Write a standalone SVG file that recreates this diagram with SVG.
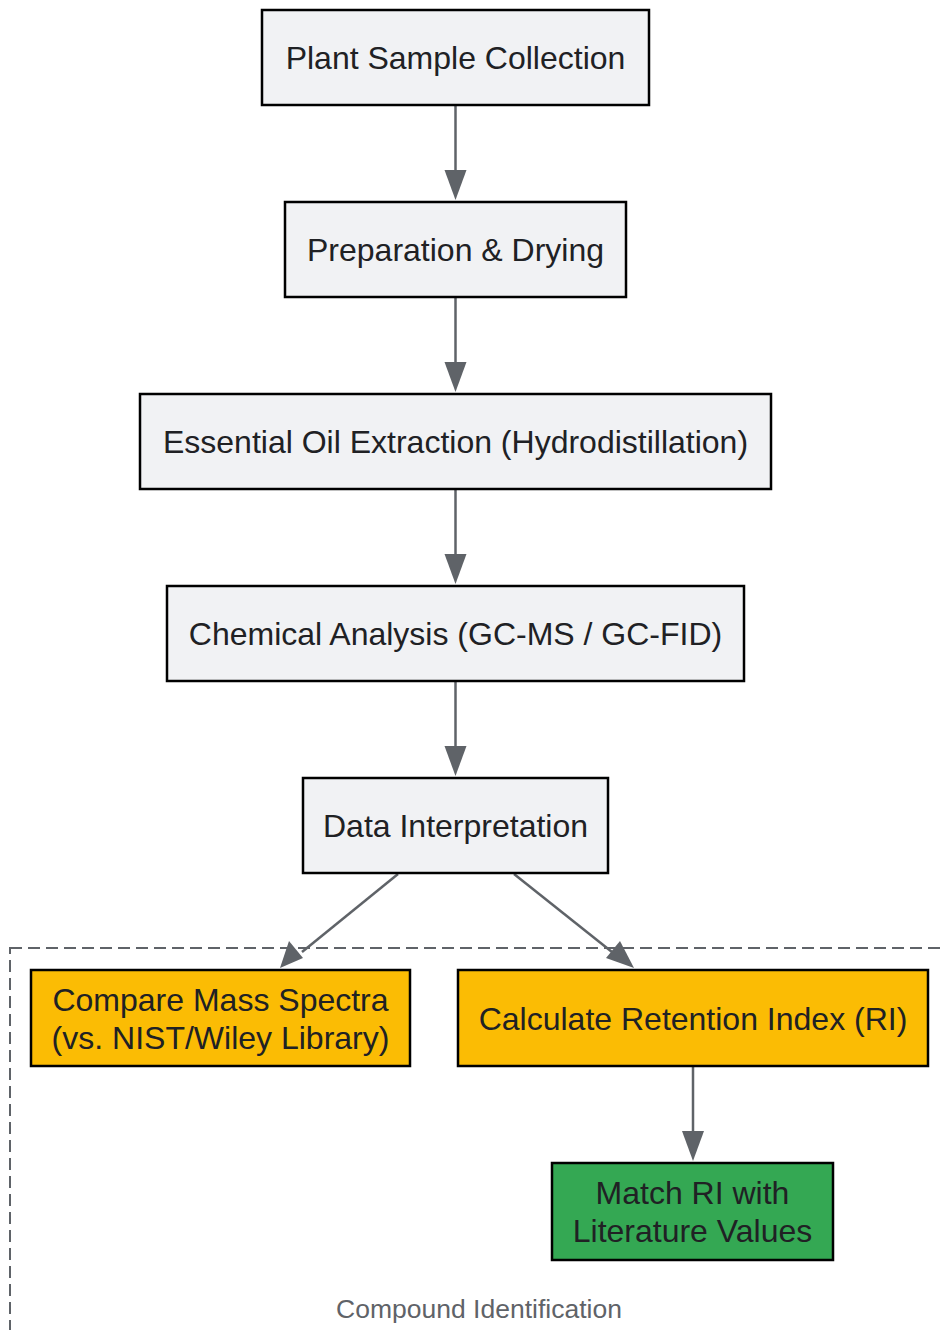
<svg xmlns="http://www.w3.org/2000/svg" width="940" height="1330" viewBox="0 0 940 1330">
<defs>
<style>
.n{stroke:#000;stroke-width:2.5}
.g{fill:#f1f2f4}
.o{fill:#fbbc04}
.gr{fill:#34a853}
.t{font-family:"Liberation Sans",Arial,sans-serif;font-size:32px;fill:#202124;text-anchor:middle}
.e{stroke:#5f6368;stroke-width:2.5;fill:none}
.ah{fill:#5f6368}
</style>
</defs>
<rect width="940" height="1330" fill="#fff"/>
<g id="cluster">
<rect x="10" y="948" width="960" height="420" fill="none" stroke="#5f6368" stroke-width="2" stroke-dasharray="12,6"/>
<text x="479" y="1318" style="font-family:'Liberation Sans',Arial,sans-serif;font-size:26.5px;fill:#5f6368;text-anchor:middle">Compound Identification</text>
</g>
<g id="connectors">
<line class="e" x1="455.5" y1="105" x2="455.5" y2="172"/>
<polygon class="ah" points="444.5,170 466.5,170 455.5,200"/>
<line class="e" x1="455.5" y1="297" x2="455.5" y2="364"/>
<polygon class="ah" points="444.5,362 466.5,362 455.5,392"/>
<line class="e" x1="455.5" y1="489" x2="455.5" y2="556"/>
<polygon class="ah" points="444.5,554 466.5,554 455.5,584"/>
<line class="e" x1="455.5" y1="681" x2="455.5" y2="748"/>
<polygon class="ah" points="444.5,746 466.5,746 455.5,776"/>
<line class="e" x1="398" y1="874" x2="302" y2="952"/>
<polygon class="ah" points="280,968 289,941 303,958"/>
<line class="e" x1="514" y1="874" x2="612" y2="952"/>
<polygon class="ah" points="634,968 606,958 620,941"/>
<line class="e" x1="693" y1="1066" x2="693" y2="1133"/>
<polygon class="ah" points="682,1131 704,1131 693,1161"/>
</g>
<g id="n1"><rect class="n g" x="262" y="10" width="387" height="95"/><text class="t" x="455.5" y="69">Plant Sample Collection</text></g>
<g id="n2"><rect class="n g" x="285" y="202" width="341" height="95"/><text class="t" x="455.5" y="261">Preparation &amp; Drying</text></g>
<g id="n3"><rect class="n g" x="140" y="394" width="631" height="95"/><text class="t" x="455.5" y="453">Essential Oil Extraction (Hydrodistillation)</text></g>
<g id="n4"><rect class="n g" x="167" y="586" width="577" height="95"/><text class="t" x="455.5" y="645">Chemical Analysis (GC-MS / GC-FID)</text></g>
<g id="n5"><rect class="n g" x="303" y="778" width="305" height="95"/><text class="t" x="455.5" y="837">Data Interpretation</text></g>
<g id="n6"><rect class="n o" x="31" y="970" width="379" height="96"/><text class="t" x="220.5" y="1011">Compare Mass Spectra</text><text class="t" x="220.5" y="1049">(vs. NIST/Wiley Library)</text></g>
<g id="n7"><rect class="n o" x="458" y="970" width="470" height="96"/><text class="t" x="693" y="1030">Calculate Retention Index (RI)</text></g>
<g id="n8"><rect class="n gr" x="552" y="1163" width="281" height="97"/><text class="t" x="692.5" y="1204">Match RI with</text><text class="t" x="692.5" y="1242">Literature Values</text></g>
</svg>
